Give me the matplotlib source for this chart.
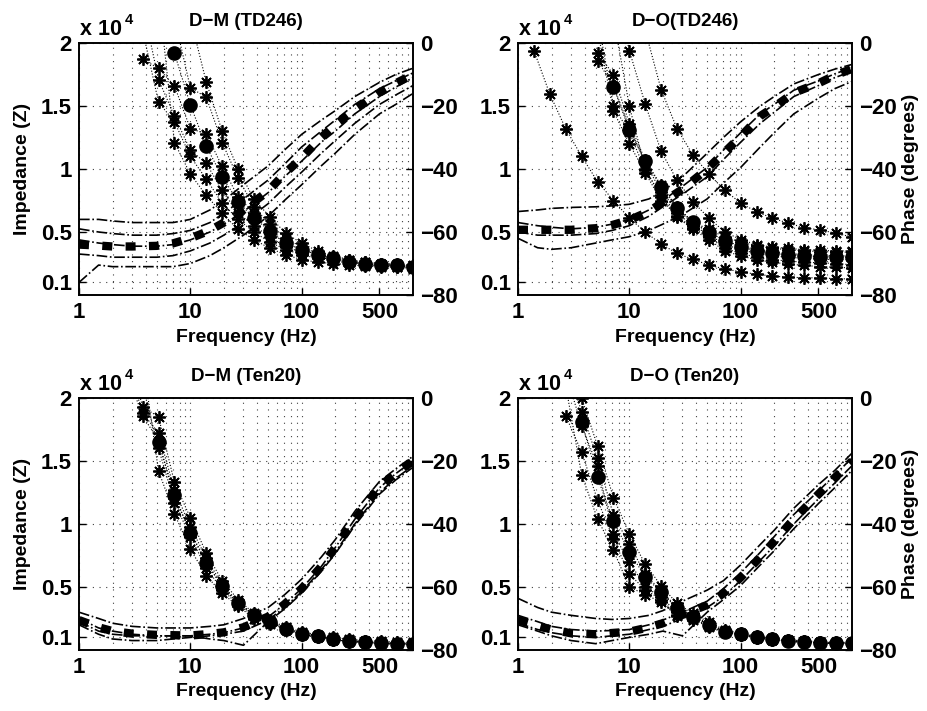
import numpy as np
import matplotlib
matplotlib.use('Agg')
import matplotlib.pyplot as plt
from matplotlib.ticker import FixedLocator, LogLocator, NullFormatter, FixedFormatter

plt.rcParams['font.family'] = ['Liberation Sans', 'DejaVu Sans']
plt.rcParams['font.weight'] = 'bold'
plt.rcParams['axes.unicode_minus'] = True

n = np.nan

# ---------------- data ----------------
freq_imp = [1.39, 1.93, 2.68, 3.73, 5.18, 7.2, 10, 13.9, 19.3, 26.8, 37.3,
            51.8, 72, 100, 139, 193, 268, 373, 518, 720, 1000]
freq_ph = [1, 1.5, 2, 3, 5, 7, 10, 15, 20, 30, 50, 70, 100, 150, 200, 300,
           500, 700, 1000]

x_ticks = [1, 10, 100, 500]
x_tick_labels = ['1', '10', '100', '500']
imp_ticks = [0.1, 0.5, 1, 1.5, 2]
imp_tick_labels = ['0.1', '0.5', '1', '1.5', '2']
ph_ticks = [-80, -60, -40, -20, 0]
ph_tick_labels = ['\u221280', '\u221260', '\u221240', '\u221220', '0']

titles = ['D\u2212M (TD246)', 'D\u2212O(TD246)', 'D\u2212M (Ten20)', 'D\u2212O (Ten20)']

# ---- D-M (TD246): impedance (x10^4) ----
tl_imp = [
    [n, n, n, n, n, 2.6, 2.2, 1.69, 1.30, 1.00, 0.76, 0.62, 0.49, 0.41, 0.35, 0.31, 0.28, 0.26, 0.25, 0.245, 0.235],
    [n, n, n, n, 2.5, 2.2, 1.645, 1.57, 1.21, 0.93, 0.70, 0.56, 0.45, 0.38, 0.33, 0.30, 0.275, 0.26, 0.25, 0.24, 0.23],
    [n, n, n, 1.87, 1.80, 1.66, 1.32, 1.28, 1.02, 0.78, 0.65, 0.50, 0.41, 0.36, 0.32, 0.29, 0.265, 0.25, 0.24, 0.235, 0.225],
    [n, n, n, 2.3, 1.71, 1.42, 1.15, 1.045, 0.83, 0.65, 0.55, 0.46, 0.38, 0.34, 0.30, 0.28, 0.26, 0.245, 0.235, 0.23, 0.22],
    [n, n, n, 2.1, 1.53, 1.375, 1.10, 0.92, 0.73, 0.60, 0.50, 0.42, 0.36, 0.32, 0.29, 0.27, 0.255, 0.24, 0.23, 0.225, 0.215],
    [n, n, n, n, 2.4, 1.21, 0.96, 0.79, 0.65, 0.52, 0.44, 0.37, 0.32, 0.28, 0.26, 0.25, 0.24, 0.23, 0.225, 0.22, 0.21],
]
tl_imp_mean = [n, n, n, n, n, 1.92, 1.51, 1.18, 0.94, 0.74, 0.61, 0.51, 0.41, 0.36, 0.32, 0.29, 0.265, 0.25, 0.24, 0.235, 0.225]
tl_ph = [
    [-56, -56, -56.5, -57, -57, -57, -56, -53, -50, -45, -39, -34, -29, -24.5, -21.5, -17, -12.5, -10, -8],
    [-59, -60, -60.5, -61, -61, -60.5, -59.5, -57, -54, -49.5, -43.5, -38.5, -33, -28, -24.5, -19.5, -14.5, -12, -9.5],
    [-62.5, -63.5, -64, -64.5, -64.5, -64, -62.5, -60, -57.5, -53.5, -47.5, -42.5, -37.5, -31.5, -28, -22.5, -17, -14, -11],
    [-67, -67.5, -68, -68, -68, -67.5, -66, -63.5, -61, -57, -51, -46, -41, -35, -31, -25.5, -19.5, -16.5, -13.5],
    [-76, -70.5, -71, -71, -71, -71, -70, -67.5, -65, -61, -55, -50, -45, -39, -35, -29, -22.5, -19.5, -16],
]
tl_ph_mean = [-64, -64.3, -64.6, -64.6, -64.4, -63.6, -62, -59.5, -57, -53, -47, -41.5, -36.5, -30, -26, -21.2, -15.7, -12.8, -10]

# ---- D-O (TD246) ----
tr_imp = [
    [1.94, 1.595, 1.32, 1.10, 0.90, 0.75, 0.61, 0.50, 0.405, 0.33, 0.283, 0.238, 0.206, 0.185, 0.164, 0.151, 0.14, 0.138, 0.135, 0.13, 0.127],
    [n, n, n, n, n, n, 2.6, 2.1, 1.63, 1.32, 1.11, 0.96, 0.83, 0.73, 0.66, 0.61, 0.57, 0.534, 0.516, 0.49, 0.46],
    [n, n, n, n, n, 2.5, 1.94, 1.515, 1.14, 0.91, 0.74, 0.61, 0.50, 0.44, 0.40, 0.38, 0.37, 0.36, 0.355, 0.35, 0.35],
    [n, n, n, n, 1.92, 1.75, 1.36, 1.07, 0.87, 0.70, 0.58, 0.52, 0.46, 0.42, 0.39, 0.37, 0.36, 0.35, 0.345, 0.34, 0.34],
    [n, n, n, n, 1.86, 1.66, 1.33, 1.05, 0.82, 0.68, 0.57, 0.50, 0.43, 0.39, 0.36, 0.34, 0.33, 0.32, 0.315, 0.31, 0.31],
    [n, n, n, n, 2.2, 1.50, 1.29, 0.99, 0.79, 0.65, 0.55, 0.48, 0.40, 0.36, 0.33, 0.31, 0.30, 0.29, 0.285, 0.28, 0.28],
    [n, n, n, n, 2.1, 1.46, 1.20, 0.97, 0.75, 0.63, 0.53, 0.46, 0.37, 0.33, 0.30, 0.28, 0.27, 0.26, 0.255, 0.25, 0.24],
    [n, n, n, n, n, 2.2, 1.5, 1.0, 0.78, 0.62, 0.52, 0.44, 0.35, 0.31, 0.28, 0.26, 0.245, 0.235, 0.225, 0.22, 0.215],
]
tr_imp_mean = [n, n, n, n, n, 1.65, 1.31, 1.06, 0.86, 0.69, 0.58, 0.50, 0.43, 0.38, 0.35, 0.33, 0.32, 0.31, 0.305, 0.30, 0.30]
tr_ph = [
    [-53.5, -53, -52.5, -52.2, -52, -51.7, -51.2, -49.5, -47, -42.5, -35, -30, -25, -20, -17, -13, -10, -8.3, -6.8],
    [-57, -58, -58.5, -59, -58.5, -57.5, -56, -53, -50, -45.5, -39.5, -34, -28.5, -22.5, -19.5, -15, -12, -9.8, -7.8],
    [-60, -61, -61, -61, -60.5, -59.5, -58, -55, -52, -48, -42.5, -37, -31.5, -25.5, -22, -17, -13.5, -11, -9],
    [-62, -65, -65.5, -65, -63.5, -62.5, -61.5, -59.5, -57.5, -54.5, -49.5, -44.5, -39.5, -33, -28.5, -22.5, -17.5, -14.5, -12.2],
]
tr_ph_mean = [-59.3, -59.3, -59.3, -59.3, -58.8, -57.8, -56.2, -53.5, -50.5, -46.4, -40, -35, -29.7, -23.2, -20.3, -15.8, -12.8, -10.3, -8.2]

# ---- D-M (Ten20) ----
bl_imp = [
    [n, n, 2.4, 1.93, 1.85, 1.33, 1.05, 0.77, 0.55, 0.40, 0.29, 0.24, 0.18, 0.145, 0.12, 0.10, 0.085, 0.075, 0.068, 0.062, 0.06],
    [n, n, 2.3, 1.88, 1.72, 1.27, 0.98, 0.73, 0.52, 0.38, 0.28, 0.23, 0.17, 0.135, 0.115, 0.09, 0.077, 0.068, 0.06, 0.055, 0.053],
    [n, n, 2.2, 1.86, 1.66, 1.21, 0.94, 0.70, 0.50, 0.37, 0.28, 0.22, 0.17, 0.13, 0.11, 0.085, 0.072, 0.063, 0.056, 0.05, 0.048],
    [n, n, n, 2.1, 1.60, 1.17, 0.90, 0.65, 0.48, 0.36, 0.27, 0.22, 0.165, 0.125, 0.105, 0.082, 0.068, 0.06, 0.053, 0.047, 0.046],
    [n, n, n, 2.3, 1.42, 1.08, 0.80, 0.59, 0.45, 0.35, 0.25, 0.21, 0.16, 0.12, 0.10, 0.08, 0.065, 0.057, 0.05, 0.045, 0.044],
]
bl_imp_mean = [n, n, n, n, 1.65, 1.23, 0.93, 0.69, 0.51, 0.37, 0.28, 0.22, 0.17, 0.13, 0.11, 0.085, 0.07, 0.062, 0.055, 0.05, 0.048]
bl_ph = [
    [-68, -70, -71.5, -72.5, -73, -73, -73, -72.5, -72, -70, -66.5, -62.5, -57.5, -50.5, -45, -36, -26.5, -22.5, -18.5],
    [-70, -73, -74, -75, -75.5, -75.5, -75.5, -75, -74.5, -73, -69.5, -65.5, -60.5, -53.5, -47.5, -38.5, -28.5, -24, -20],
    [-72, -75, -76.5, -77, -77, -76.5, -76, -75.5, -75, -74, -70.5, -66.5, -61.5, -54.5, -49, -40, -30, -25.5, -21.5],
    [-71, -74, -75, -75.5, -75.5, -75.5, -75.5, -76.5, -77, -78.5, -71, -67, -62, -55, -49.5, -40.5, -30.5, -26, -22],
]
bl_ph_mean = [-70.5, -72.8, -74, -74.8, -75.2, -75.3, -75.4, -74.9, -74.4, -72.8, -69.4, -65.5, -60.5, -53.5, -47.5, -38.5, -28, -24, -20]

# ---- D-O (Ten20) ----
br_imp = [
    [n, n, 2.5, 2.0, 1.62, 1.21, 0.92, 0.68, 0.51, 0.37, 0.29, 0.22, 0.16, 0.135, 0.11, 0.095, 0.082, 0.072, 0.066, 0.06, 0.06],
    [n, n, 2.3, 1.89, 1.52, 1.07, 0.84, 0.60, 0.47, 0.34, 0.27, 0.21, 0.15, 0.13, 0.105, 0.09, 0.077, 0.068, 0.062, 0.057, 0.056],
    [n, n, 2.2, 1.78, 1.46, 0.92, 0.70, 0.50, 0.42, 0.30, 0.26, 0.20, 0.148, 0.125, 0.10, 0.085, 0.072, 0.064, 0.058, 0.053, 0.053],
    [n, n, 1.86, 1.57, 1.19, 0.88, 0.60, 0.48, 0.40, 0.28, 0.25, 0.19, 0.142, 0.12, 0.097, 0.082, 0.07, 0.062, 0.056, 0.051, 0.05],
    [n, n, 2.1, 1.39, 1.04, 0.79, 0.50, 0.44, 0.38, 0.27, 0.24, 0.185, 0.14, 0.118, 0.095, 0.08, 0.068, 0.06, 0.054, 0.05, 0.049],
]
br_imp_mean = [n, n, n, 1.81, 1.37, 1.02, 0.78, 0.58, 0.46, 0.33, 0.265, 0.20, 0.146, 0.127, 0.10, 0.085, 0.072, 0.064, 0.058, 0.053, 0.053]
br_ph = [
    [-63.6, -66.5, -68, -69, -70, -70.3, -70, -69, -67.5, -64.5, -61, -58, -53, -46.5, -42, -35, -27.5, -23, -17.5],
    [-69, -71, -72.5, -73.5, -74, -73.8, -73.5, -72, -70.5, -68, -64.5, -60.5, -55.5, -49, -44, -37, -29.5, -24.5, -19],
    [-71.5, -73.5, -74.5, -75.5, -76, -75.5, -75, -73.5, -72.5, -70, -66.5, -63, -58, -51.5, -47, -40, -32, -27, -21.5],
    [-72, -74, -75.5, -77, -78, -77, -76, -75, -74, -75.5, -68, -64, -59.5, -53, -48.5, -41.5, -33.5, -28.5, -23],
]
br_ph_mean = [-70.5, -72.3, -73.5, -74.7, -75, -74.6, -74.2, -72.8, -71.5, -68.8, -65.7, -62, -57, -50.5, -45.5, -38.5, -30.5, -25.3, -20]

# ---------------- drawing ----------------
W, H = 927, 711
fig = plt.figure(figsize=(W / 100, H / 100), dpi=100)


def rect(l, t, r, b):
    return [l / W, 1 - b / H, (r - l) / W, (b - t) / H]


panels = [
    (rect(79, 43, 413, 295), titles[0], tl_imp, tl_imp_mean, tl_ph, tl_ph_mean, True, False),
    (rect(518, 43, 852, 295), titles[1], tr_imp, tr_imp_mean, tr_ph, tr_ph_mean, False, True),
    (rect(79, 398, 413, 650), titles[2], bl_imp, bl_imp_mean, bl_ph, bl_ph_mean, True, False),
    (rect(518, 398, 852, 650), titles[3], br_imp, br_imp_mean, br_ph, br_ph_mean, False, True),
]

ast = (8, 2, 0)
grid_ls = (0, (1, 5))
TICK_FS = 16
LAB_FS = 14
TITLE_FS = 13.5

for r, title, imp, imp_mean, ph, ph_mean, left_lab, right_lab in panels:
    ax = fig.add_axes(r)
    ax.set_xscale('log')
    ax.set_xlim(1, 1000)
    ax.set_ylim(0, 2)
    ax2 = ax.twinx()
    ax2.set_ylim(-80, 0)

    for s in imp:
        ax.plot(freq_imp, s, color='k', ls=':', lw=0.8, marker=ast, ms=9,
                mew=1.3, mec='k')
    ax.plot(freq_imp, imp_mean, color='k', ls=':', lw=0.8, marker='o', ms=9.5,
            mfc='k', mec='k')

    ax.xaxis.set_major_locator(FixedLocator(x_ticks))
    ax.xaxis.set_major_formatter(FixedFormatter(x_tick_labels))
    ax.xaxis.set_minor_locator(LogLocator(base=10, subs=np.arange(2, 10), numticks=20))
    ax.xaxis.set_minor_formatter(NullFormatter())
    ax.yaxis.set_major_locator(FixedLocator(imp_ticks))
    ax.yaxis.set_major_formatter(FixedFormatter(imp_tick_labels))
    ax.grid(True, which='both', axis='x', color='0.25', ls=grid_ls, lw=0.8)
    ax.grid(True, which='major', axis='y', color='0.25', ls=grid_ls, lw=0.8)
    ax.tick_params(which='major', direction='in', length=5, width=1,
                   labelsize=TICK_FS, pad=5)
    ax.tick_params(which='minor', length=0)
    ax.yaxis.tick_left()
    for sp in ax.spines.values():
        sp.set_linewidth(1.2)
    ax.set_xlabel('Frequency (Hz)', fontsize=LAB_FS, fontweight='bold', labelpad=4)
    if left_lab:
        ax.set_ylabel('Impedance (Z)', fontsize=LAB_FS, fontweight='bold', labelpad=7)
    ax.set_title(title, fontsize=TITLE_FS, fontweight='bold', pad=12)
    # x 10^4 multiplier
    pos = ax.get_position()
    x0 = pos.x0 * W
    y0 = (1 - pos.y1) * H
    fig.text((x0 + 1) / W, 1 - (y0 - 8) / H, 'x 10', fontsize=15.5,
             fontweight='bold', ha='left', va='baseline')
    fig.text((x0 + 46) / W, 1 - (y0 - 19) / H, '4', fontsize=10.5,
             fontweight='bold', ha='left', va='baseline')

    for s in ph:
        ax2.plot(freq_ph, s, color='k', ls='-.', lw=1.2)
    ax2.plot(freq_ph, ph_mean, color='k', lw=6, ls=(0, (1.2, 1.6)),
             dash_capstyle='butt')
    ax2.yaxis.set_major_locator(FixedLocator(ph_ticks))
    ax2.yaxis.set_major_formatter(FixedFormatter(ph_tick_labels))
    ax2.tick_params(which='major', direction='in', length=5, width=1,
                    labelsize=TICK_FS, pad=5)
    ax2.tick_params(which='minor', length=0)
    for sp in ax2.spines.values():
        sp.set_linewidth(1.2)
    if right_lab:
        ax2.set_ylabel('Phase (degrees)', fontsize=LAB_FS, fontweight='bold',
                       labelpad=4)

fig.savefig('out.png', dpi=100)
